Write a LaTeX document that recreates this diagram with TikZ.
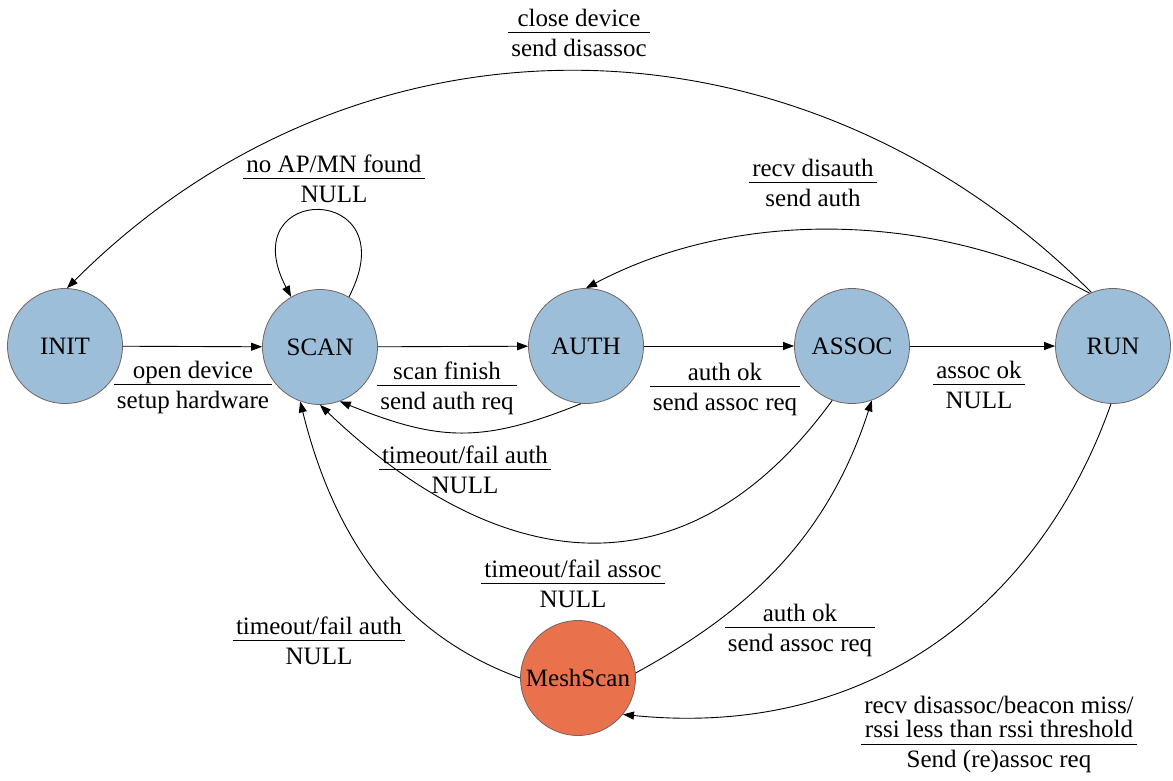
\documentclass[tikz,border=0pt]{standalone}
\usepackage{fontspec}
\setmainfont{Liberation Serif}
\usetikzlibrary{arrows.meta}

\definecolor{stateblue}{RGB}{157,190,216}
\definecolor{meshorange}{RGB}{233,114,76}
\definecolor{rimgray}{RGB}{112,100,100}

\setlength\arrayrulewidth{0.9pt}
% event over action, separated by a rule
\newcommand\translab[2]{\begin{tabular}[t]{@{\hspace{3pt}}c@{\hspace{3pt}}}#1\\[-3pt]\hline\rule{0pt}{24pt}#2\end{tabular}}
% two-line event over action
\newcommand\translabthree[3]{\begin{tabular}[t]{@{\hspace{3pt}}c@{\hspace{3pt}}}#1\\[-6pt]#2\\[-2pt]\hline\rule{0pt}{23pt}#3\end{tabular}}

\begin{document}
\begin{tikzpicture}[x=1pt,y=-1pt,
  font=\fontsize{25}{30}\selectfont,
  state/.style={circle,draw=rimgray,line width=0.8pt,fill=stateblue,
    minimum size=115pt,inner sep=0pt},
  meshstate/.style={state,fill=meshorange},
  trans/.style={anchor=base,inner sep=0pt},
  edge/.style={line width=0.9pt,-{Triangle[length=11pt,width=8pt]}}]

\useasboundingbox (0,0) rectangle (1173,780);

% states
\node[state] (INIT)  at (65,346)   {INIT};
\node[state] (SCAN)  at (320,347)  {SCAN};
\node[state] (AUTH)  at (586,346)  {AUTH};
\node[state] (ASSOC) at (852,346)  {ASSOC};
\node[state] (RUN)   at (1113,346) {RUN};
\node[meshstate] (MESH) at (578,678) {MeshScan};

% forward transitions
\draw[edge] (INIT) -- (SCAN);
\draw[edge] (SCAN) -- (AUTH);
\draw[edge] (AUTH) -- (ASSOC);
\draw[edge] (ASSOC) -- (RUN);

% scan loop
\draw[edge] (SCAN.60) .. controls +(60,-115) and +(-60,-115) .. (SCAN.120);

% from RUN back up
\draw[edge] (RUN.112) .. controls +(-292,-292) and +(292,-292) .. (INIT.88);
\draw[edge] (RUN.114) .. controls +(-153,-81) and +(153,-81) .. (AUTH.90);

% failures back to SCAN
\draw[edge] (AUTH.265) .. controls +(-99,40) and +(99,40) .. (SCAN.290);
\draw[edge] (ASSOC.250) .. controls +(-146,201) and +(179,171) .. (SCAN.270);
\draw[edge] (MESH.180) .. controls +(-113,-41) and +(36,146) .. (SCAN.250);

% mesh scan paths
\draw[edge] (MESH.5) .. controls +(106,-58) and +(-46,143) .. (ASSOC.290);
\draw[edge] (RUN.268) .. controls +(-66,188) and +(259,26) .. (MESH.-39);

% transition labels
\node[trans] (lInit)   at (193,378) {\translab{open device}{setup hardware}};
\node[trans] (lScan)   at (447,379) {\translab{scan finish}{send auth req}};
\node[trans] (lAuth)   at (725,380) {\translab{auth ok}{send assoc req}};
\node[trans] (lAssoc)  at (979,378) {\translab{assoc ok}{NULL}};
\node[trans] (lLoop)   at (334,172) {\translab{no AP/MN found}{NULL}};
\node[trans] (lClose)  at (579,26)  {\translab{close device}{send disassoc}};
\node[trans] (lDisau)  at (813,176) {\translab{recv disauth}{send auth}};
\node[trans] (lFailA)  at (465,463) {\translab{timeout/fail auth}{NULL}};
\node[trans] (lFailS)  at (573,577) {\translab{timeout/fail assoc}{NULL}};
\node[trans] (lFailM)  at (319,634) {\translab{timeout/fail auth}{NULL}};
\node[trans] (lMeshOk) at (800,621) {\translab{auth ok}{send assoc req}};
\node[trans] (lLost)   at (999,713) {\translabthree{recv disassoc/beacon miss/}{rssi less than rssi threshold}{Send (re)assoc req}};

\end{tikzpicture}
\end{document}
